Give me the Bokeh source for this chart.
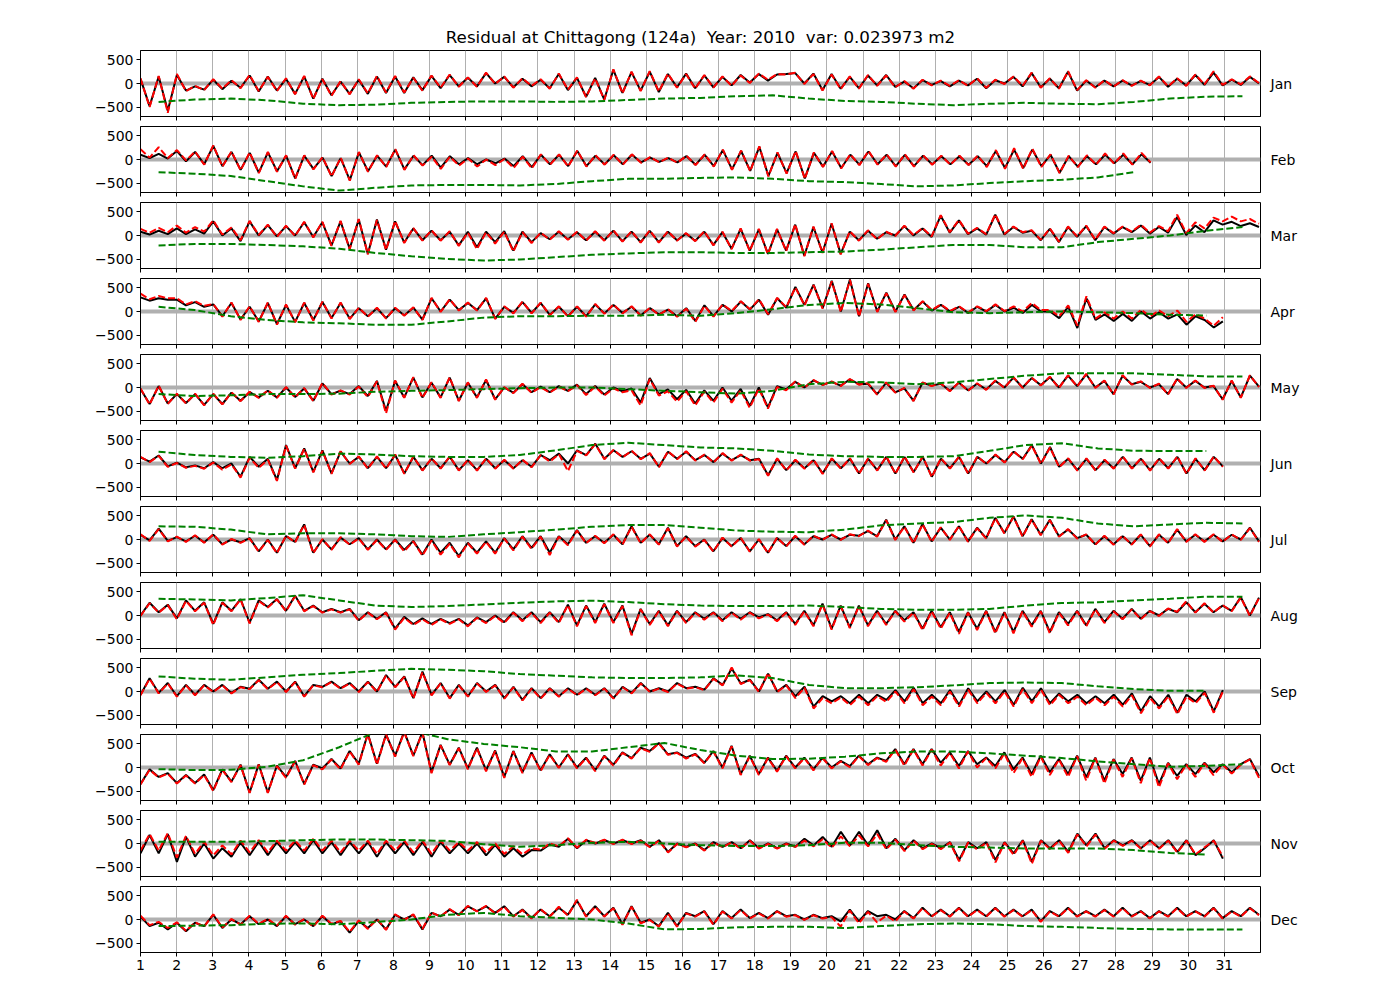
import numpy as np
from bokeh.plotting import figure
from bokeh.layouts import column
from bokeh.models import FixedTicker, Span, Range1d, LinearAxis
from bokeh.embed import file_html
from bokeh.resources import INLINE

title_text = "Residual at Chittagong (124a) \u00a0Year: 2010 \u00a0var: 0.023973 m2"
months = ["Jan", "Feb", "Mar", "Apr", "May", "Jun", "Jul", "Aug", "Sep", "Oct", "Nov", "Dec"]
days_in_month = [31, 28, 31, 30, 31, 30, 31, 31, 30, 31, 30, 31]
x_tick_labels = list(range(1, 32))
y_ticks = [-500, 0, 500]

# observed residual (black), 4 readings per day
obs_jan = [[100,-480,150,-580],[180,-150,-60,-130],[80,-120,60,-90],[170,-170,150,-150],
[100,-220,150,-320],[100,-250,40,-220],[80,-220,150,-200],[150,-200,130,-140],
[160,-100,180,-60],[120,-60,220,0],[140,-80,100,-60],[80,-100,200,-140],
[120,-280,120,-340],[290,-200,240,-150],[250,-180,200,-80],[210,-100,170,-80],
[140,-40,180,20],[200,60,190,200],[220,0,210,-140],[200,-110,140,-100],
[170,-40,180,-70],[40,-100,70,-30],[50,-60,60,-40],[100,-100,70,0],
[140,-60,220,-80],[100,-100,250,-150],[60,-80,60,-60],[60,-40,50,-30],
[140,-70,100,-40],[180,-30,230,-40],[80,-30,140,0]]
obs_feb = [[100,30,120,20],[180,-40,160,-100],[290,-140,160,-220],[140,-280,150,-250],
[80,-400,80,-200],[40,-350,30,-440],[150,-250,80,-150],[210,-210,80,-120],
[80,-170,70,-100],[30,-100,0,-80],[20,-140,70,-160],[100,-100,100,-140],
[180,-140,80,-100],[90,-100,100,-60],[40,-50,30,-60],[70,-110,100,-140],
[200,-210,180,-240],[270,-350,140,-290],[170,-400,140,-150],[170,-180,100,-110],
[170,-100,100,-140],[100,-140,80,-100],[70,-100,70,-110],[70,-140,180,-180],
[210,-180,210,-140],[100,-280,70,-150],[70,-100,100,-80],[100,-100,110,-70]]
obs_mar = [[80,20,100,30],[150,30,130,40],[300,0,150,-120],[300,0,220,-20],
[200,0,280,-30],[280,-210,300,-280],[340,-390,340,-300],[300,-150,150,-100],
[100,-100,80,-210],[80,-250,80,-140],[90,-320,80,-140],[50,-80,80,-80],
[70,-100,80,-100],[100,-120,80,-140],[100,-140,80,-100],[40,-110,80,-200],
[70,-280,140,-320],[130,-390,130,-320],[230,-430,180,-360],[250,-390,80,-100],
[100,-70,70,0],[200,0,150,-30],[420,60,320,30],[150,20,440,20],
[180,60,100,-100],[140,-140,180,-30],[200,-100,180,40],[180,70,210,40],
[180,60,390,10],[210,70,320,230],[290,200,260,180]]
obs_apr = [[300,230,280,250],[250,130,200,100],[150,-100,180,-170],[100,-210,180,-270],
[140,-220,180,-180],[200,-140,180,-150],[70,-100,70,-140],[70,-80,80,-170],
[280,0,250,30],[180,30,280,-150],[100,-30,200,-30],[180,-70,100,-100],
[100,-100,150,-40],[140,-30,100,-80],[70,-60,40,-100],[70,-200,130,-100],
[140,0,210,40],[250,-70,280,80],[520,140,570,70],[650,0,680,-100],
[600,0,400,0],[360,30,210,20],[140,0,100,-30],[100,0,140,0],
[80,-30,140,0],[0,-140,100,-350],[280,-180,-60,-200],[-50,-200,0,-150],
[-20,-150,-60,-280],[-100,-180,-340,-210]]
obs_may = [[-30,-350,30,-340],[-140,-330,-140,-370],[-140,-350,-110,-280],[-100,-210,-70,-210],
[0,-200,-20,-280],[85,-140,-70,-140],[30,-180,140,-500],[140,-210,210,-210],
[100,-210,210,-280],[100,-210,160,-250],[0,-110,70,-100],[20,-100,30,-70],
[60,-140,30,-150],[0,-80,-20,-320],[200,-140,-40,-250],[-50,-340,-60,-280],
[0,-280,-30,-390],[0,-420,30,-40],[120,0,150,60],[120,40,170,70],
[80,-140,100,-100],[-20,-280,100,40],[80,-70,100,-60],[80,-40,140,0],
[210,0,200,50],[220,0,250,30],[280,0,140,-140],[250,70,120,0],
[70,-140,180,0],[140,0,30,-250],[140,-210,250,20]]
obs_jun = [[130,40,170,-60],[20,-80,-40,-100],[30,-100,0,-280],[140,-70,100,-350],
[390,-100,320,-180],[280,-210,250,0],[140,-100,140,-100],[180,-210,140,-140],
[100,-100,140,-140],[70,-140,100,-100],[70,-100,70,-70],[180,70,210,0],
[280,180,420,100],[280,140,260,100],[210,-70,250,100],[250,70,180,30],
[210,70,180,70],[100,-250,100,-140],[70,-100,70,-210],[100,-100,100,-210],
[100,-140,140,-210],[140,-180,140,-280],[100,-100,140,-210],[140,0,180,30],
[250,100,390,0],[350,-70,100,-140],[100,-140,70,-100],[140,-100,100,-140],
[100,-100,140,-210],[100,-140,140,-60]]
obs_jul = [[100,-20,230,-30],[50,-40,80,-60],[100,-100,0,-60],[30,-250,0,-280],
[70,-50,320,-280],[0,-210,40,-100],[30,-210,0,-210],[0,-220,-30,-320],
[0,-280,-70,-350],[-70,-280,-40,-280],[30,-210,70,-180],[70,-280,70,-100],
[200,-70,70,-70],[100,-100,280,-70],[100,-100,250,-140],[70,-140,0,-250],
[30,-140,30,-250],[0,-280,30,-140],[70,-100,70,0],[100,0,100,80],
[180,70,420,0],[280,-70,330,-40],[250,0,280,-40],[250,30,460,140],
[490,70,430,100],[420,70,210,30],[100,-100,70,-100],[70,-100,100,-140],
[100,-70,210,-40],[100,-40,100,-40],[100,0,250,-40]]
obs_aug = [[0,270,70,230],[-60,320,100,280],[-180,280,100,350],[-150,320,180,350],
[100,420,100,210],[70,140,70,140],[-100,70,-70,70],[-280,-30,-180,-60],
[-180,-70,-160,-70],[-210,-40,-140,0],[-140,70,-100,70],[-140,70,-140,230],
[-210,210,-140,250],[-140,210,-390,140],[-180,100,-210,100],[-140,70,-70,70],
[-100,70,-70,70],[-40,30,-100,70],[-180,100,-210,250],[-280,210,-250,210],
[-210,100,-180,100],[-100,70,-280,100],[-250,70,-350,70],[-280,100,-350,70],
[-350,100,-210,100],[-350,70,-180,100],[-210,140,-140,100],[-70,140,-70,100],
[0,140,70,280],[70,250,70,210],[100,390,0,380]]
obs_sep = [[-70,280,-30,180],[-100,140,-70,140],[0,140,-30,100],[60,250,60,210],
[0,210,-100,140],[100,210,70,180],[0,210,0,350],[100,320,-140,420],
[-70,180,-140,140],[-100,180,0,140],[-140,100,-180,70],[-140,70,-100,70],
[-70,70,-70,70],[-140,100,-30,180],[0,70,0,180],[70,100,40,280],
[140,490,170,250],[0,380,0,140],[-100,100,-320,-100],[-210,-100,-250,-70],
[-250,-70,-180,30],[-210,80,-250,-70],[-250,30,-280,70],[-210,0,-210,30],
[-280,80,-210,70],[-250,-40,-210,-70],[-250,-100,-250,-70],[-280,-40,-420,-100],
[-320,-70,-450,-70],[-210,0,-420,30]]
obs_oct = [[-350,-40,-200,-120],[-330,-160,-330,-150],[-480,-40,-300,60],[-530,70,-530,40],
[-200,140,-350,60],[-20,180,-20,350],[80,720,80,700],[250,760,250,750],
[-100,480,60,420],[-20,420,-60,360],[-200,350,-100,320],[-60,280,0,280],
[0,210,-60,250],[60,320,200,420],[350,520,280,320],[210,290,100,350],
[0,460,-140,250],[-140,210,-70,250],[0,210,-40,210],[0,140,30,250],
[70,210,140,390],[70,390,70,390],[100,320,30,350],[70,210,30,320],
[-40,210,-140,250],[-100,180,-140,250],[-210,210,-280,180],[-140,210,-280,210],
[-350,100,-180,70],[-140,100,-100,70],[-100,70,180,-180]]
obs_nov = [[-210,180,-210,200],[-390,140,-280,0],[-320,-100,-280,20],[-250,40,-250,30],
[-210,30,-210,70],[-210,30,-250,30],[-210,30,-280,30],[-210,30,-250,30],
[-280,30,-210,0],[-210,0,-250,-30],[-280,-100,-280,-140],[-150,-20,-70,100],
[-100,70,0,70],[0,70,0,70],[-70,70,-180,0],[-70,0,-140,30],
[-70,30,-100,70],[-100,0,-100,0],[-70,100,-40,140],[-70,250,-40,250],
[-40,280,-100,100],[-140,70,-100,0],[-100,30,-350,30],[-100,30,-350,30],
[-210,70,-390,70],[-100,70,-180,210],[-40,210,-100,70],[-40,70,-100,70],
[-100,70,-180,70],[-250,-100,70,-320]]
obs_dec = [[60,-140,-70,-210],[-70,-250,-70,-140],[100,-180,0,-100],[70,-100,0,-140],
[70,-100,0,-140],[70,-100,-40,-280],[-30,-180,0,-210],[100,0,100,-210],
[140,70,210,100],[280,180,280,140],[280,70,210,30],[210,70,250,100],
[400,70,280,70],[250,-100,280,-70],[0,-140,140,-140],[140,70,180,-100],
[180,30,210,30],[140,30,180,70],[100,0,100,30],[70,-40,210,-40],
[180,70,100,0],[180,30,250,70],[210,70,250,70],[210,70,250,70],
[210,70,210,-40],[180,70,250,70],[180,70,210,70],[250,70,180,30],
[180,70,250,70],[180,70,250,30],[180,70,250,100]]

# fitted residual (red dashed), 4 readings per day
fit_jan = [[110,-500,160,-620],[200,-160,-50,-140],[90,-110,70,-100],[180,-160,140,-160],
[110,-230,160,-330],[90,-260,50,-230],[90,-210,160,-190],[160,-190,120,-150],
[170,-90,190,-70],[130,-70,230,-10],[150,-90,110,-50],[90,-110,210,-130],
[130,-290,110,-350],[300,-210,250,-160],[260,-170,210,-90],[200,-110,180,-90],
[150,-50,170,10],[210,80,200,190],[230,-10,200,-150],[190,-120,150,-110],
[180,-50,170,-80],[50,-110,80,-40],[60,-50,70,-50],[110,-90,80,-10],
[150,-50,230,-90],[110,-110,260,-140],[70,-90,70,-70],[70,-50,60,-40],
[150,-60,110,-50],[190,-20,260,-30],[90,-20,150,10]]
fit_feb = [[220,40,260,30],[200,-20,170,-110],[300,-150,170,-230],[150,-290,160,-260],
[90,-410,90,-210],[50,-360,40,-450],[160,-260,90,-160],[220,-220,90,-130],
[60,-200,60,-130],[20,-150,0,-120],[10,-180,60,-190],[110,-110,110,-150],
[190,-150,90,-110],[100,-110,110,-70],[50,-60,40,-70],[80,-120,110,-150],
[210,-220,190,-250],[280,-360,150,-300],[180,-410,150,-160],[180,-190,110,-120],
[180,-110,110,-150],[110,-150,90,-110],[80,-110,80,-120],[80,-160,200,-200],
[240,-200,230,-160],[110,-290,80,-160],[90,-110,130,-90],[130,-110,140,-60]]
fit_mar = [[140,60,160,70],[210,60,180,80],[320,20,170,-100],[310,10,230,-30],
[210,-10,290,-40],[290,-220,310,-290],[350,-400,330,-310],[310,-160,160,-110],
[110,-110,90,-220],[60,-290,70,-170],[80,-340,70,-160],[60,-90,90,-90],
[80,-110,90,-110],[110,-130,90,-150],[110,-150,90,-110],[50,-120,90,-210],
[80,-290,150,-330],[140,-400,140,-330],[240,-440,190,-370],[260,-400,90,-110],
[110,-80,80,-10],[210,10,160,-20],[430,70,330,40],[160,30,450,30],
[190,70,110,-90],[150,-130,190,-20],[210,-90,190,50],[190,80,230,60],
[200,90,440,50],[280,150,380,300],[400,300,350,250]]
fit_apr = [[380,260,330,280],[280,150,220,120],[160,-110,190,-180],[110,-220,190,-280],
[150,-230,190,-190],[210,-150,190,-160],[80,-110,80,-150],[80,-90,90,-180],
[290,-10,260,20],[190,20,290,-160],[110,-40,210,-40],[190,-80,110,-110],
[110,-110,160,-50],[150,-40,110,-90],[80,-70,50,-110],[60,-220,120,-110],
[150,10,220,50],[260,-60,290,90],[510,130,560,60],[640,-10,670,-110],
[590,-10,390,-10],[350,20,220,30],[150,10,110,-20],[110,10,150,10],
[110,0,180,30],[30,-100,130,-300],[320,-150,-20,-150],[0,-150,40,-100],
[20,-100,20,-220],[-60,-150,-300,-120]]
fit_may = [[-20,-360,40,-350],[-130,-340,-130,-380],[-130,-360,-100,-290],[-90,-220,-60,-220],
[10,-210,-10,-290],[95,-150,-60,-150],[20,-200,130,-550],[150,-220,220,-220],
[110,-220,220,-290],[110,-220,170,-260],[10,-120,80,-110],[10,-110,20,-80],
[50,-160,20,-170],[-20,-100,-60,-380],[180,-170,-80,-300],[-80,-380,-90,-320],
[-30,-320,-60,-430],[-20,-450,10,-60],[130,-10,160,50],[130,30,180,60],
[90,-150,110,-110],[-10,-290,110,30],[90,-80,110,-70],[90,-50,150,-10],
[220,-10,210,40],[230,-10,260,20],[290,-10,150,-150],[260,60,130,-10],
[80,-150,190,-10],[150,-10,40,-260],[150,-220,260,10]]
fit_jun = [[140,30,160,-70],[10,-90,-50,-110],[20,-130,-20,-300],[120,-90,80,-370],
[380,-110,310,-190],[270,-220,260,-10],[150,-110,150,-110],[190,-220,150,-150],
[110,-110,150,-150],[80,-150,110,-110],[80,-110,80,-80],[180,40,200,-160],
[270,170,410,90],[290,130,270,90],[220,-80,260,90],[260,60,190,20],
[220,60,190,60],[90,-260,110,-150],[80,-110,80,-220],[110,-110,110,-220],
[110,-150,150,-220],[150,-190,150,-290],[110,-110,150,-220],[150,-10,190,20],
[260,90,380,-10],[340,-80,110,-150],[110,-150,80,-110],[150,-110,110,-150],
[110,-110,150,-220],[110,-150,150,-70]]
fit_jul = [[110,-30,220,-40],[60,-50,90,-70],[110,-110,10,-70],[20,-260,-10,-290],
[80,-60,310,-290],[10,-220,50,-110],[20,-220,-10,-220],[-10,-250,-40,-340],
[-20,-320,-90,-380],[-80,-300,-50,-300],[20,-230,60,-200],[60,-330,60,-120],
[190,-80,80,-80],[110,-110,270,-80],[110,-110,240,-150],[60,-150,-10,-260],
[40,-150,40,-260],[10,-290,40,-150],[80,-110,80,-10],[110,-10,110,70],
[190,60,410,-10],[270,-80,320,-50],[260,-10,290,-50],[240,20,450,130],
[480,60,420,90],[410,60,220,20],[110,-110,80,-110],[80,-110,110,-150],
[110,-80,220,-50],[110,-50,110,-50],[110,-10,240,-50]]
fit_aug = [[-10,260,60,220],[-80,310,90,270],[-200,270,90,340],[-170,310,170,340],
[90,410,90,200],[60,130,60,130],[-110,60,-80,60],[-300,-50,-200,-80],
[-200,-80,-180,-80],[-230,-50,-160,-10],[-160,60,-120,60],[-160,60,-160,220],
[-230,200,-160,240],[-160,200,-420,130],[-200,90,-230,90],[-160,60,-90,60],
[-120,60,-90,60],[-60,20,-120,60],[-200,90,-230,240],[-300,200,-270,200],
[-230,90,-200,90],[-130,60,-310,90],[-280,60,-390,60],[-310,90,-380,60],
[-380,90,-240,90],[-380,60,-210,90],[-230,130,-160,90],[-80,130,-80,90],
[-10,150,80,300],[60,260,60,220],[90,380,-10,370]]
fit_sep = [[-80,270,-40,170],[-110,130,-80,130],[-10,130,-40,90],[50,240,50,200],
[-10,200,-110,130],[90,200,60,170],[-10,200,-10,340],[90,310,-150,410],
[-80,170,-150,130],[-110,170,-10,130],[-150,90,-190,60],[-150,60,-110,60],
[-80,60,-80,60],[-150,90,-40,170],[-10,60,-10,170],[60,90,30,270],
[130,510,160,240],[-10,390,-10,130],[-140,80,-360,-140],[-250,-130,-290,-110],
[-290,-100,-220,0],[-250,50,-290,-110],[-290,0,-320,40],[-250,-30,-250,0],
[-320,50,-250,40],[-290,-70,-250,-110],[-290,-130,-290,-110],[-320,-80,-460,-140],
[-360,-100,-480,-110],[-250,-30,-450,0]]
fit_oct = [[-360,-50,-210,-130],[-340,-170,-340,-160],[-500,-50,-310,50],[-540,60,-540,30],
[-220,130,-360,50],[-40,170,-40,340],[60,710,60,700],[230,750,240,740],
[-120,470,50,410],[-40,410,-80,350],[-220,340,-120,310],[-80,270,-10,270],
[-20,200,-80,240],[40,310,190,410],[330,510,270,310],[190,280,90,340],
[-20,450,-160,240],[-160,200,-90,240],[-20,200,-60,200],[-20,130,10,240],
[50,200,120,380],[40,380,40,380],[40,310,-20,340],[0,200,-20,300],
[-120,200,-200,230],[-160,170,-200,240],[-280,200,-340,170],[-200,200,-330,200],
[-420,90,-250,60],[-200,90,-160,60],[-130,60,170,-220]]
fit_nov = [[-150,200,-150,220],[-300,160,-220,40],[-250,-40,-230,60],[-190,70,-190,60],
[-150,60,-150,100],[-150,60,-190,60],[-150,60,-220,60],[-150,60,-190,60],
[-220,60,-150,30],[-150,30,-190,0],[-220,-60,-230,-100],[-130,0,-60,110],
[-90,80,10,80],[-10,80,-10,60],[-80,60,-190,-10],[-80,-10,-150,20],
[-80,20,-110,60],[-110,-10,-110,-10],[-70,60,-60,90],[-90,150,-60,170],
[-60,200,-120,80],[-160,60,-120,-10],[-120,20,-380,20],[-130,20,-400,20],
[-240,60,-430,60],[-120,60,-200,190],[-60,190,-110,60],[-50,60,-110,60],
[-110,60,-190,60],[-230,-80,60,-280]]
fit_dec = [[80,-120,-50,-180],[-60,-240,-60,-150],[110,-170,10,-110],[80,-90,10,-130],
[80,-110,10,-150],[80,-90,-30,-260],[-20,-200,10,-220],[110,-10,110,-200],
[150,60,220,90],[290,170,290,130],[270,60,200,20],[220,60,270,80],
[420,60,270,60],[240,-110,270,-80],[-10,-150,130,-150],[130,60,170,-110],
[170,20,200,20],[130,20,170,60],[90,-10,90,20],[50,-150,190,-80],
[160,-60,80,-40],[170,20,240,60],[200,60,240,60],[200,60,240,60],
[200,60,200,-50],[170,60,240,60],[170,60,200,60],[240,60,170,20],
[170,60,240,60],[170,60,240,20],[170,60,240,90]]

# daily mean (green dashed), one per day
mean_jan = [-390,-340,-320,-355,-430,-460,-450,-410,-390,-380,-380,-390,-380,-350,-320,-305,
            -270,-250,-320,-370,-390,-430,-460,-430,-410,-430,-440,-390,-320,-280,-270]
mean_feb = [-270,-300,-350,-460,-570,-660,-600,-550,-540,-540,-550,-520,-460,-410,-410,-390,
            -380,-410,-460,-480,-520,-570,-550,-500,-460,-430,-380,-270]
mean_mar = [-210,-180,-180,-200,-230,-280,-370,-440,-500,-530,-510,-460,-410,-380,-355,-355,
            -370,-370,-355,-340,-300,-250,-200,-200,-250,-250,-140,-70,0,100,180]
mean_apr = [100,30,-100,-180,-230,-250,-280,-280,-210,-130,-100,-100,-90,-90,-70,-90,
            -35,50,140,180,150,70,-15,-35,-15,0,-15,-35,-70,-85]
mean_may = [-140,-180,-165,-140,-140,-130,-90,-70,-55,-35,-15,0,0,-35,-70,-100,
            -130,-70,70,120,110,70,110,180,250,300,300,300,270,235,235]
mean_jun = [250,180,140,120,155,210,190,155,140,140,180,280,390,440,390,340,
            320,270,190,155,140,140,155,270,390,430,320,270,265,265]
mean_jul = [280,270,210,110,130,130,110,70,55,110,155,210,270,305,305,250,
            190,165,155,210,300,340,370,460,510,460,340,280,320,355,340]
mean_aug = [355,340,320,370,430,320,210,180,200,235,270,300,315,285,240,210,
            200,200,210,180,140,120,120,140,210,265,280,320,355,400,400]
mean_sep = [320,270,250,300,355,390,440,480,460,430,370,335,300,285,285,300,
            340,285,140,70,70,90,130,180,190,180,110,50,15,15]
mean_oct = [-35,-55,-50,15,155,430,750,780,600,500,430,340,340,430,520,370,
            250,180,185,230,300,340,340,300,250,200,130,70,15,35,70]
mean_nov = [35,35,35,50,70,85,85,70,55,-15,-70,-35,15,35,0,-35,
            -55,-55,-35,15,15,-35,-70,-85,-105,-105,-105,-140,-200,-235]
mean_dec = [-140,-130,-120,-90,-85,-100,-55,0,100,140,70,35,0,-85,-210,-200,
            -165,-155,-155,-180,-140,-100,-85,-100,-140,-155,-180,-200,-210,-210,-210]

obs_all = [obs_jan, obs_feb, obs_mar, obs_apr, obs_may, obs_jun, obs_jul, obs_aug, obs_sep, obs_oct, obs_nov, obs_dec]
fit_all = [fit_jan, fit_feb, fit_mar, fit_apr, fit_may, fit_jun, fit_jul, fit_aug, fit_sep, fit_oct, fit_nov, fit_dec]
mean_all = [mean_jan, mean_feb, mean_mar, mean_apr, mean_may, mean_jun, mean_jul, mean_aug, mean_sep, mean_oct, mean_nov, mean_dec]

FONT = "DejaVu Sans"
figs = []
for i, name in enumerate(months):
    D = days_in_month[i]
    o = np.array(obs_all[i], dtype=float).ravel()
    f = np.array(fit_all[i], dtype=float).ravel()
    n = len(o)
    t = 1 + np.arange(n) * (D - 1.0 / 24) / (n - 1)
    m = np.array(mean_all[i], dtype=float)
    tm = np.arange(1, len(m) + 1) + 0.5
    first = (i == 0)
    last = (i == len(months) - 1)
    kw = dict(frame_width=1120, frame_height=66,
              x_range=Range1d(1, 32), y_range=Range1d(-700, 700),
              output_backend="svg", toolbar_location=None,
              min_border_left=140, min_border_right=80,
              min_border_top=50 if first else 5,
              min_border_bottom=32 if last else 5,
              background_fill_color="white", border_fill_color="white")
    if first:
        kw["title"] = title_text
    p = figure(**kw)
    if first:
        p.title.align = "center"
        p.title.text_font = FONT
        p.title.text_font_size = "16.7px"
        p.title.text_font_style = "normal"
        p.title.text_color = "black"
        p.title.standoff = 7
    p.outline_line_color = "black"
    p.outline_line_width = 1
    p.outline_line_alpha = 1

    p.xaxis.ticker = FixedTicker(ticks=x_tick_labels)
    p.yaxis.ticker = FixedTicker(ticks=y_ticks)
    for ax in (p.xaxis[0], p.yaxis[0]):
        ax.major_tick_out = 4
        ax.major_tick_in = 0
        ax.minor_tick_line_color = None
        ax.axis_line_color = "black"
        ax.major_tick_line_color = "black"
        ax.major_label_text_font = FONT
        ax.major_label_text_font_size = "14px"
        ax.major_label_text_color = "black"
        ax.major_label_standoff = 3
    if not last:
        p.xaxis.major_label_overrides = {k: "" for k in x_tick_labels}
        p.xaxis.major_label_text_font_size = "0px"
        p.xaxis.major_label_standoff = 0

    p.xgrid.grid_line_color = "#b0b0b0"
    p.xgrid.grid_line_width = 1
    p.ygrid.grid_line_color = None

    # month name on the right side
    rax = LinearAxis(ticker=FixedTicker(ticks=[]), axis_label=name,
                     axis_label_orientation="horizontal",
                     axis_label_standoff=10,
                     axis_label_text_font=FONT, axis_label_text_font_size="14px",
                     axis_label_text_font_style="normal", axis_label_text_color="black",
                     axis_line_color=None, major_tick_line_color=None,
                     minor_tick_line_color=None, major_label_text_font_size="0px")
    p.add_layout(rax, "right")

    p.add_layout(Span(location=0, dimension="width", line_color="#b0b0b0",
                      line_width=4, level="underlay"))
    p.line(t, o, line_color="black", line_width=2)
    p.line(t, f, line_color="red", line_width=2, line_dash="7 3")
    p.line(tm, m, line_color="green", line_width=2, line_dash="7 3")
    figs.append(p)

layout = column(*figs)
open("out.html", "w").write(file_html(layout, INLINE))
